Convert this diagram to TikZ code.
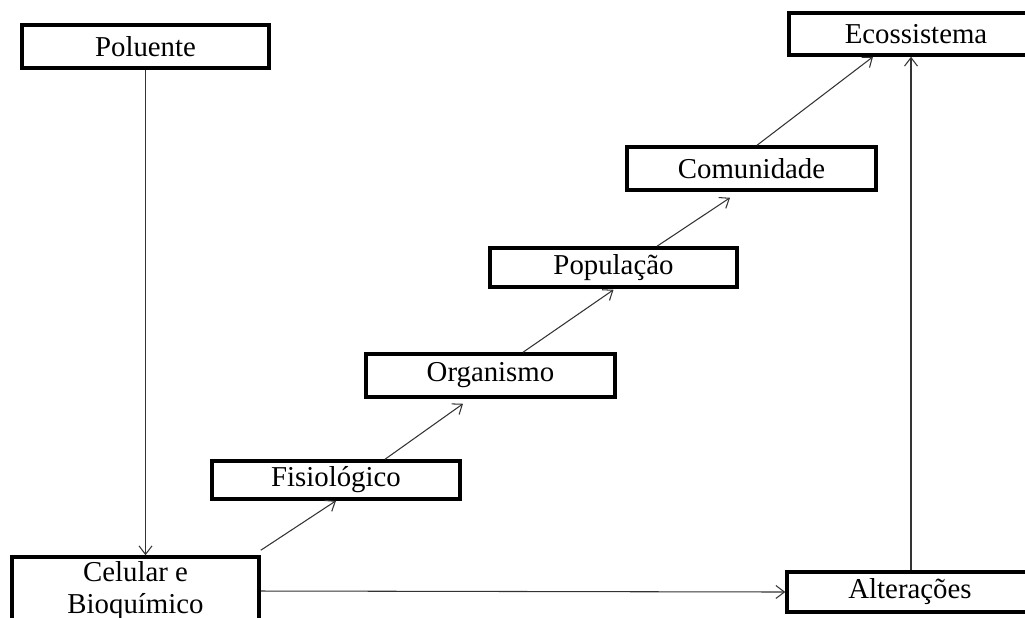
\documentclass[tikz,border=0pt]{standalone}
\usepackage{fontspec}
\setmainfont{Liberation Serif}
\usetikzlibrary{arrows.meta}
\begin{document}
\begin{tikzpicture}[
  box/.style={draw=black, line width=2pt, fill=white, inner sep=0pt, align=center,
    font=\fontsize{16.4}{18.2}\selectfont},
  conn/.style={draw=black!80, line width=0.6pt, -{Straight Barb[length=1.7mm,width=2.6mm]}}
]
\useasboundingbox (0,0) rectangle (20.5,-12.34);
\clip (0,0) rectangle (20.5,-12.34);
\fill[white] (0,0) rectangle (20.5,-12.34);
\node[box, minimum width=4.94cm, minimum height=0.86cm] (pol) at (2.91,-0.93) {Poluente};
\node[box, minimum width=5.08cm, minimum height=0.84cm] (eco) at (18.32,-0.68) {Ecossistema};
\node[box, minimum width=4.98cm, minimum height=0.86cm] (com) at (15.03,-3.37) {Comunidade};
\node[box, minimum width=4.94cm, minimum height=0.78cm] (pop) at (12.27,-5.35) {População};
\node[box, minimum width=4.98cm, minimum height=0.86cm] (org) at (9.81,-7.51) {Organismo};
\node[box, minimum width=4.96cm, minimum height=0.76cm] (fis) at (6.72,-9.6) {Fisiológico};
\node[box, minimum width=4.94cm, minimum height=1.36cm] (cel) at (2.71,-11.82) {Celular e\\Bioquímico};
\node[box, minimum width=4.92cm, minimum height=0.8cm] (alt) at (18.2,-11.84) {Alterações};

\coordinate (fisout) at ([xshift=0.98cm]fis.north);
\coordinate (orgin) at ([xshift=-0.55cm,yshift=-0.1cm]org.south);
\coordinate (orgout) at ([xshift=0.65cm]org.north);
\coordinate (popin) at ([yshift=-0.02cm]pop.south);
\coordinate (popout) at ([xshift=0.87cm]pop.north);
\coordinate (comin) at ([xshift=-0.43cm,yshift=-0.12cm]com.south);
\coordinate (comout) at ([xshift=0.11cm]com.north);
\coordinate (ecoin) at ([xshift=-0.86cm]eco.south);

\draw[conn] (pol.south) -- (pol.south |- cel.north);
\draw[conn] ([yshift=0.1cm]cel.north east) -- (fis.south);
\draw[conn] (fisout) -- (orgin);
\draw[conn] (orgout) -- (popin);
\draw[conn] (popout) -- (comin);
\draw[conn] (comout) -- (ecoin);
\draw[conn] (cel.east) -- (alt.west);
\draw[conn] ([xshift=0.02cm]alt.north) -- ([xshift=0.02cm]alt.north |- eco.south);
\end{tikzpicture}
\end{document}
